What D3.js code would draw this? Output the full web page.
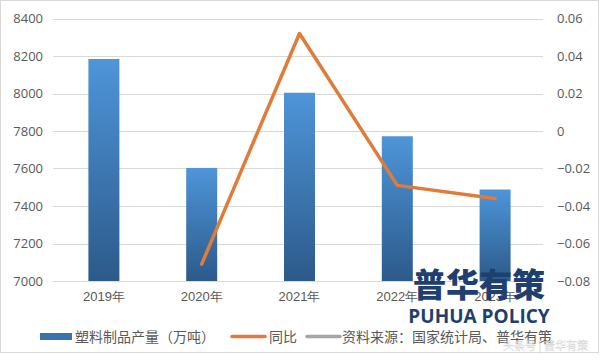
<!DOCTYPE html>
<html>
<head>
<meta charset="utf-8">
<script src="https://cdnjs.cloudflare.com/ajax/libs/d3/7.8.5/d3.min.js"></script>
<style>
  body { margin: 0; background: #fff; }
  svg { display: block; font-family: "Noto Sans CJK SC", "Open Sans", sans-serif; }
</style>
</head>
<body>
<svg id="chart" width="601" height="361"></svg>
<script>
// years on x axis
var years = ["2019年", "2020年", "2021年", "2022年", "2023年"];
// plastic products output (10k tons)
var output = [8184, 7603, 8004, 7772, 7488];
// year on year change, first year has none
var yoy = [null, -0.071, 0.052, -0.029, -0.036];
// axis ticks
var leftTicks = [7000, 7200, 7400, 7600, 7800, 8000, 8200, 8400];
var rightTicks = [-0.08, -0.06, -0.04, -0.02, 0, 0.02, 0.04, 0.06];
// legend entries
var legendNames = ["塑料制品产量（万吨）", "同比", "资料来源：国家统计局、普华有策"];

var svg = d3.select("#chart");
var plotL = 55, plotR = 544, plotT = 18.5, plotB = 281;

// outer border
svg.append("rect")
  .attr("x", 0.5).attr("y", 0.5).attr("width", 598).attr("height", 352)
  .attr("fill", "none").attr("stroke", "#d9d9d9");

var x = d3.scaleBand().domain(years).range([plotL, plotR]);
var yL = d3.scaleLinear().domain([7000, 8400]).range([plotB, plotT]);
var yR = d3.scaleLinear().domain([-0.08, 0.06]).range([plotB, plotT]);

// bar gradient
var defs = svg.append("defs");
var grad = defs.append("linearGradient").attr("id", "barGrad")
  .attr("x1", 0).attr("y1", 0).attr("x2", 0).attr("y2", 1);
grad.append("stop").attr("offset", "0%").attr("stop-color", "#4e95d9");
grad.append("stop").attr("offset", "100%").attr("stop-color", "#2c5a8a");

// gridlines
svg.append("g").selectAll("line").data(leftTicks).enter().append("line")
  .attr("x1", 53).attr("x2", 543)
  .attr("y1", function(d){ return Math.round(yL(d)) + 0.5; })
  .attr("y2", function(d){ return Math.round(yL(d)) + 0.5; })
  .attr("stroke", "#d9d9d9");

// left axis
var axL = svg.append("g").attr("transform", "translate(" + 43 + ",0)")
  .call(d3.axisLeft(yL).tickValues(leftTicks).tickSize(0).tickPadding(0)
    .tickFormat(d3.format("d")));
axL.select(".domain").remove();
axL.selectAll("text").attr("font-size", 13).attr("fill", "#595959")
  .attr("font-family", "Open Sans, sans-serif");

// right axis
var axR = svg.append("g").attr("transform", "translate(" + 557 + ",0)")
  .call(d3.axisRight(yR).tickValues(rightTicks).tickSize(0).tickPadding(0)
    .tickFormat(function(d){ return d === 0 ? "0" : d3.format(".2f")(d); }));
axR.select(".domain").remove();
axR.selectAll("text").attr("font-size", 13).attr("fill", "#595959")
  .attr("font-family", "Open Sans, sans-serif");

// bottom axis labels
var axB = svg.append("g").attr("transform", "translate(0," + 292 + ")")
  .call(d3.axisBottom(x).tickSize(0).tickPadding(0));
axB.select(".domain").remove();
axB.selectAll("text").attr("font-size", 13).attr("fill", "#595959").attr("dy", "0.7em");

// bars
var bw = 31;
svg.append("g").selectAll("rect").data(output).enter().append("rect")
  .attr("x", function(d, i){ return x(years[i]) + x.bandwidth() / 2 - bw / 2; })
  .attr("y", function(d){ return yL(d); })
  .attr("width", bw)
  .attr("height", function(d){ return yL(7000) - yL(d); })
  .attr("fill", "url(#barGrad)");

// yoy line
var line = d3.line()
  .defined(function(d){ return d !== null; })
  .x(function(d, i){ return x(years[i]) + x.bandwidth() / 2; })
  .y(function(d){ return yR(d); });
svg.append("path").datum(yoy)
  .attr("d", line)
  .attr("fill", "none")
  .attr("stroke", "#e07c3a")
  .attr("stroke-width", 3.5)
  .attr("stroke-linecap", "round")
  .attr("stroke-linejoin", "round");

// watermark logo
svg.append("text").attr("x", 479).attr("y", 297).attr("text-anchor", "middle")
  .attr("font-size", 33).attr("font-weight", 900).attr("fill", "#1e3f6f")
  .text("普华有策");
svg.append("text").attr("x", 479).attr("y", 323).attr("text-anchor", "middle")
  .attr("font-size", 19).attr("font-weight", 700).attr("fill", "#1e3f6f")
  .attr("font-family", "Open Sans, sans-serif").text("PUHUA POLICY");

// legend
var lg = svg.append("g").attr("font-size", 14).attr("fill", "#595959");
var swX = [40, 232, 307], txX = [75, 269, 342];
var swColor = ["url(#barGrad)", "#e07c3a", "#a5a5a5"];
legendNames.forEach(function(n, i){
  if (i === 0) {
    lg.append("rect").attr("x", swX[i]).attr("y", 333).attr("width", 32).attr("height", 7)
      .attr("fill", "#3a73ab");
  } else {
    lg.append("line").attr("x1", swX[i]).attr("x2", swX[i] + 33)
      .attr("y1", 336.5).attr("y2", 336.5)
      .attr("stroke", swColor[i]).attr("stroke-width", 3.5).attr("stroke-linecap", "round");
  }
  lg.append("text").attr("x", txX[i]).attr("y", 341.5).text(n);
});

// faint corner watermark
svg.append("text").attr("x", 588).attr("y", 350).attr("text-anchor", "end")
  .attr("font-size", 11).attr("fill", "#ffffff").attr("stroke", "#c8c8c8")
  .attr("stroke-width", 0.4).attr("opacity", 0.8).text("头条号 | 普华有策");
</script>
</body>
</html>
